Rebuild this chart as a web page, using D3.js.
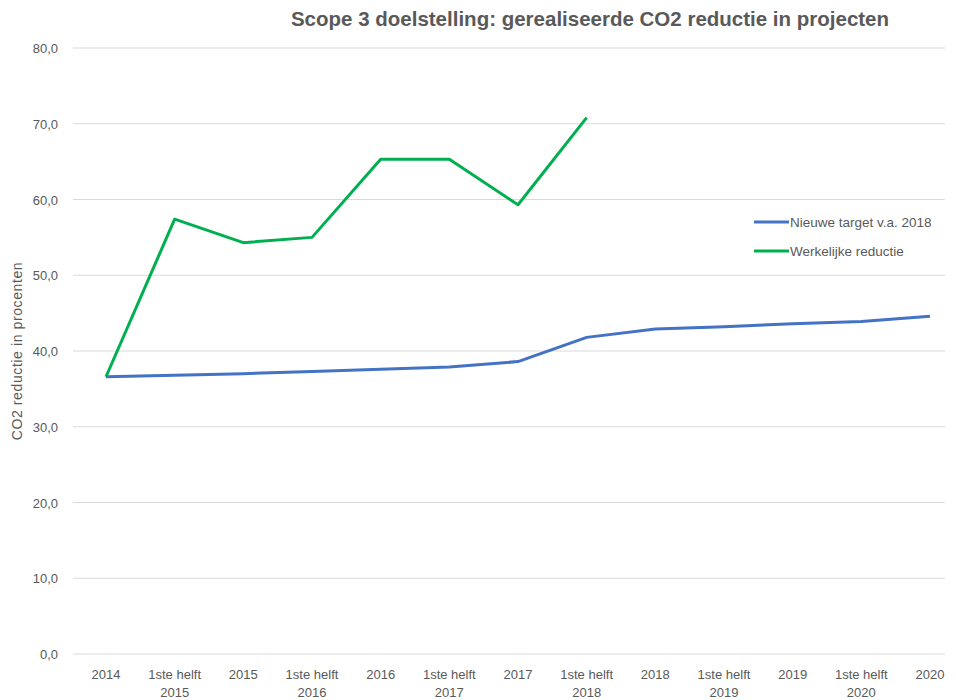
<!DOCTYPE html>
<html>
<head>
<meta charset="utf-8">
<script src="https://cdn.jsdelivr.net/npm/d3@7"></script>
<style>
  body { margin: 0; background: #fff; }
  text { font-family: "Liberation Sans", "DejaVu Sans", sans-serif; fill: #595959; }
</style>
</head>
<body>
<svg></svg>
<script>
const WIDTH = 956;
const HEIGHT = 700;

// categories on the x axis (second line after the \n)
const categories = [
    '2014', '1ste helft\n2015', '2015', '1ste helft\n2016', '2016', '1ste helft\n2017',
    '2017', '1ste helft\n2018', '2018', '1ste helft\n2019', '2019', '1ste helft\n2020', '2020'
];
const targetValues = [36.6, 36.8, 37.0, 37.3, 37.6, 37.9, 38.6, 41.8, 42.9, 43.2, 43.6, 43.9, 44.6];
const actualValues = [36.6, 57.4, 54.3, 55.0, 65.3, 65.3, 59.3, 70.8];
const yTicks = [0, 10, 20, 30, 40, 50, 60, 70, 80];
const seriesNames = ['Nieuwe target v.a. 2018', 'Werkelijke reductie'];
const seriesColors = ['#4472C4', '#00B050'];

const plot = { left: 73, right: 945, top: 48, bottom: 654 };

let svg = d3.select('svg')
    .attr('width', WIDTH)
    .attr('height', HEIGHT);

let x = d3.scalePoint()
    .domain(categories)
    .range([106, 930]);

let y = d3.scaleLinear()
    .domain([0, 80])
    .range([plot.bottom, plot.top]);

// gridlines
svg.append('g')
    .selectAll('line')
    .data(yTicks)
    .enter()
    .append('line')
        .attr('x1', plot.left)
        .attr('x2', plot.right)
        .attr('y1', d => y(d))
        .attr('y2', d => y(d))
        .attr('stroke', '#d9d9d9')
        .attr('stroke-width', 1);

// y tick labels
svg.append('g')
    .selectAll('text')
    .data(yTicks)
    .enter()
    .append('text')
        .attr('x', 58)
        .attr('y', d => y(d) + 5)
        .attr('text-anchor', 'end')
        .style('font-size', '13px')
        .text(d => d.toFixed(1).replace('.', ','));

// x tick labels
let xLabels = svg.append('g')
    .selectAll('text')
    .data(categories)
    .enter()
    .append('text')
        .attr('x', d => x(d))
        .attr('y', 679)
        .attr('text-anchor', 'middle')
        .style('font-size', '13px');
xLabels.selectAll('tspan')
    .data(d => d.split('\n').map(s => ({ s: s, px: x(d) })))
    .enter()
    .append('tspan')
        .attr('x', d => d.px)
        .attr('dy', (d, i) => i === 0 ? 0 : 18)
        .text(d => d.s);

// y axis title
svg.append('text')
    .attr('transform', `translate(22, ${(plot.top + plot.bottom) / 2}) rotate(-90)`)
    .attr('text-anchor', 'middle')
    .style('font-size', '14px')
    .style('letter-spacing', '0.6px')
    .text('CO2 reductie in procenten');

// chart title
svg.append('text')
    .attr('x', 590)
    .attr('y', 26)
    .attr('text-anchor', 'middle')
    .style('font-size', '20.5px')
    .style('font-weight', 'bold')
    .text('Scope 3 doelstelling: gerealiseerde CO2 reductie in projecten');

// lines
let line = d3.line()
    .x((d, i) => x(categories[i]))
    .y(d => y(d));

[targetValues, actualValues].forEach((vals, i) => {
    svg.append('path')
        .datum(vals)
        .attr('d', line)
        .attr('fill', 'none')
        .attr('stroke', seriesColors[i])
        .attr('stroke-width', 3)
        .attr('stroke-linejoin', 'round');
});

// legend
let legend = svg.append('g')
    .selectAll('g')
    .data(seriesNames)
    .enter()
    .append('g')
        .attr('transform', (d, i) => `translate(754, ${222 + i * 29})`);
legend.append('line')
    .attr('x1', 0)
    .attr('x2', 35)
    .attr('stroke', (d, i) => seriesColors[i])
    .attr('stroke-width', 3);
legend.append('text')
    .attr('x', 36)
    .attr('y', 5)
    .style('font-size', '13.5px')
    .text(d => d);
</script>
</body>
</html>
